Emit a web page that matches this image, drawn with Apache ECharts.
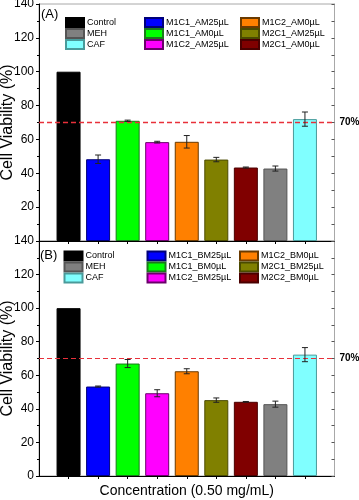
<!DOCTYPE html>
<html>
<head>
<meta charset="utf-8">
<script src="https://cdn.jsdelivr.net/npm/echarts@6/dist/echarts.min.js"></script>
<style>
html,body{margin:0;padding:0;background:#fff;}
#chart{width:359px;height:500px;}
</style>
</head>
<body>
<div id="chart"></div>
<script>
// ---- data ----
var positions = [1, 2, 3, 4, 5, 6, 7, 8, 9];
var categoriesA = ['Control', 'M1C1_AM25µL', 'M1C1_AM0µL', 'M1C2_AM25µL', 'M1C2_AM0µL', 'M2C1_AM25µL', 'M2C1_AM0µL', 'MEH', 'CAF'];
var valuesA = [100, 48.3, 71.0, 58.4, 58.6, 48.1, 43.4, 42.8, 72.0];
var errorsA = [0, 2.5, 0.4, 0.5, 3.7, 1.3, 0.3, 1.5, 4.2];
var categoriesB = ['Control', 'M1C1_BM25µL', 'M1C1_BM0µL', 'M1C2_BM25µL', 'M1C2_BM0µL', 'M2C1_BM25µL', 'M2C2_BM0µL', 'MEH', 'CAF'];
var valuesB = [100, 53.3, 67.0, 49.3, 62.4, 45.2, 44.2, 42.8, 72.3];
var errorsB = [0, 0.3, 2.4, 2.1, 1.5, 1.3, 0.2, 1.8, 4.2];
var threshold = 70;
var thresholdLabel = '70%';

// ---- styles ----
var colors = ['#000000', '#0000ff', '#00ff00', '#ff00ff', '#ff8000', '#808000', '#800000', '#808080', '#80ffff'];
var borders = ['#000000', '#00007a', '#1a7a1a', '#6a006a', '#6a3a00', '#4a4a00', '#4a0000', '#555555', '#4a9a9a'];
var FONT = '"Liberation Sans", Arial, sans-serif';

var grids = [
  {left: 39, right: 24.5, top: 4, bottom: 259, show: true, borderColor: '#a8a8a8', borderWidth: 1, containLabel: false, outerBoundsMode: 'none'},
  {left: 39, right: 24.5, top: 241, bottom: 24, show: true, borderColor: '#a8a8a8', borderWidth: 1, containLabel: false, outerBoundsMode: 'none'}
];

function xAxisFor(idx, withName) {
  return {
    type: 'value', gridIndex: idx, min: 0, max: 10, interval: 1,
    axisLine: {show: true, onZero: false, lineStyle: {color: '#000', width: 1}},
    axisTick: {show: true, inside: false, length: 3, customValues: positions, lineStyle: {color: '#000'}},
    axisLabel: {show: false},
    splitLine: {show: false},
    name: withName ? 'Concentration (0.50 mg/mL)' : '',
    nameLocation: 'middle', nameGap: 8, nameMoveOverlap: false,
    nameTextStyle: {fontFamily: FONT, fontSize: 14, color: '#000'}
  };
}
function yLeft(idx, hideMin) {
  return {
    type: 'value', gridIndex: idx, min: 0, max: 140, interval: 20, position: 'left',
    axisLine: {show: true, onZero: false, lineStyle: {color: '#000', width: 1}},
    axisTick: {show: true, inside: false, length: 3, lineStyle: {color: '#000'}},
    minorTick: {show: true, splitNumber: 2, length: 2, lineStyle: {color: '#000'}},
    axisLabel: {show: true, showMinLabel: !hideMin, margin: 5, fontFamily: FONT, fontSize: 12, color: '#000'},
    splitLine: {show: false},
    name: 'Cell Viability (%)', nameLocation: 'middle', nameGap: 23, nameRotate: 90, nameMoveOverlap: false,
    nameTextStyle: {fontFamily: FONT, fontSize: 16, color: '#000'}
  };
}
function yRight(idx) {
  return {
    type: 'value', gridIndex: idx, min: 0, max: 140, interval: 20, position: 'right',
    axisLine: {show: true, onZero: false, lineStyle: {color: '#a8a8a8', width: 1}},
    axisTick: {show: true, inside: true, length: 3, lineStyle: {color: '#555'}},
    minorTick: {show: true, splitNumber: 2, length: 3, lineStyle: {color: '#555'}},
    axisLabel: {show: false},
    splitLine: {show: false}
  };
}

var series = [];
function addPanel(panel, cats, vals, errs) {
  var yIdx = panel * 2;
  cats.forEach(function (name, i) {
    series.push({
      type: 'bar', name: name, xAxisIndex: panel, yAxisIndex: yIdx,
      barWidth: 24, barGap: '-100%',
      itemStyle: {color: colors[i], borderColor: borders[i], borderWidth: 1},
      data: [[positions[i], vals[i]]],
      z: 2
    });
  });
  var errData = positions.map(function (p, i) { return [p, vals[i], errs[i]]; })
    .filter(function (d) { return d[2] > 0; });
  series.push({
    type: 'custom', xAxisIndex: panel, yAxisIndex: yIdx, z: 5, silent: true,
    data: errData,
    renderItem: function (params, api) {
      var x = api.value(0), v = api.value(1), e = api.value(2);
      var hi = api.coord([x, v + e]);
      var lo = api.coord([x, v - e]);
      var w = 3;
      var st = {stroke: '#222', lineWidth: 1};
      return {type: 'group', children: [
        {type: 'line', shape: {x1: hi[0], y1: hi[1], x2: lo[0], y2: lo[1]}, style: st},
        {type: 'line', shape: {x1: hi[0] - w, y1: hi[1], x2: hi[0] + w, y2: hi[1]}, style: st},
        {type: 'line', shape: {x1: lo[0] - w, y1: lo[1], x2: lo[0] + w, y2: lo[1]}, style: st}
      ]};
    }
  });
  // threshold line
  series.push({
    type: 'line', name: 'threshold' + panel, xAxisIndex: panel, yAxisIndex: yIdx, z: 6,
    data: [], silent: true,
    markLine: {
      silent: true, symbol: ['none', 'none'], animation: false,
      lineStyle: {color: '#e8303a', type: [5, 3], width: panel === 0 ? 1.3 : 1, opacity: 1},
      label: {show: true, position: 'end', formatter: thresholdLabel, distance: 5,
        fontFamily: FONT, fontSize: 10, fontWeight: 'bold', color: '#000'},
      emphasis: {disabled: true},
      data: [{yAxis: threshold}]
    }
  });
}
addPanel(0, categoriesA, valuesA, errorsA);
addPanel(1, categoriesB, valuesB, errorsB);

function legendCol(names, left, top) {
  return {
    orient: 'vertical', left: left, top: top, data: names, padding: 0,
    icon: 'rect', itemWidth: 18, itemHeight: 9, itemGap: 0,
    selectedMode: false,
    textStyle: {fontFamily: FONT, fontSize: 9, color: '#000', lineHeight: 10.7, padding: [0, 0, 0, -2]}
  };
}
var legendColsA = [[categoriesA[0], categoriesA[7], categoriesA[8]], [categoriesA[1], categoriesA[2], categoriesA[3]], [categoriesA[4], categoriesA[5], categoriesA[6]]];
var legendColsB = [[categoriesB[0], categoriesB[7], categoriesB[8]], [categoriesB[1], categoriesB[2], categoriesB[3]], [categoriesB[4], categoriesB[5], categoriesB[6]]];

var option = {
  backgroundColor: '#fff',
  animation: false,
  title: [
    {text: '(A)', left: 41, top: 8, padding: 0, textStyle: {fontFamily: FONT, fontSize: 13, fontWeight: 'normal', color: '#000'}},
    {text: '(B)', left: 40, top: 249, padding: 0, textStyle: {fontFamily: FONT, fontSize: 13, fontWeight: 'normal', color: '#000'}}
  ],
  grid: grids,
  xAxis: [xAxisFor(0, false), xAxisFor(1, true)],
  yAxis: [yLeft(0, true), yRight(0), yLeft(1, false), yRight(1)],
  legend: [
    legendCol(legendColsA[0], 65, 17),
    legendCol(legendColsA[1], 144, 17),
    legendCol(legendColsA[2], 240, 17),
    legendCol(legendColsB[0], 63.5, 250.5),
    legendCol(legendColsB[1], 146.5, 250.5),
    legendCol(legendColsB[2], 239, 250.5)
  ],
  series: series
};
var chart = echarts.init(document.getElementById('chart'), null, {renderer: 'canvas'});
chart.setOption(option);
</script>
</body>
</html>
